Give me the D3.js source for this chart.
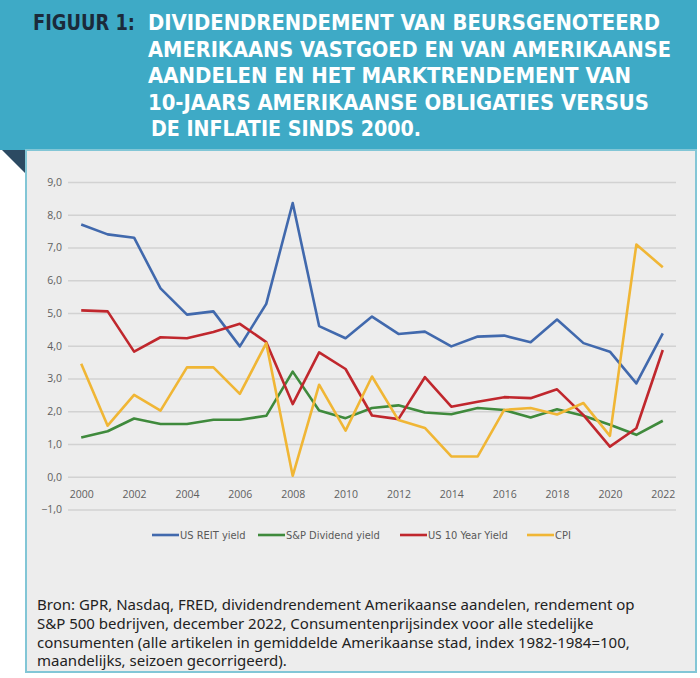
<!DOCTYPE html>
<html><head><meta charset="utf-8">
<script src="https://cdn.jsdelivr.net/npm/d3@7"></script>
<style>body{margin:0;background:#fff}svg{display:block}</style>
</head><body>
<svg id="c" width="700" height="678"></svg>
<script>
const years = d3.range(2000, 2023).map(String);
const reit = [7.7,7.4,7.3,5.75,4.95,5.05,3.98,5.28,8.36,4.6,4.23,4.89,4.36,4.43,3.98,4.28,4.31,4.11,4.8,4.08,3.82,2.85,4.38];
const spDiv = [1.2,1.39,1.78,1.61,1.61,1.74,1.74,1.86,3.21,2.02,1.79,2.1,2.18,1.96,1.91,2.1,2.04,1.81,2.06,1.86,1.59,1.28,1.71];
const us10 = [5.08,5.05,3.82,4.26,4.23,4.42,4.67,4.11,2.22,3.8,3.29,1.87,1.76,3.04,2.14,2.29,2.43,2.4,2.67,1.88,0.92,1.48,3.87];
const cpi = [3.45,1.56,2.5,2.02,3.34,3.34,2.53,4.08,0.03,2.81,1.41,3.06,1.73,1.49,0.62,0.62,2.04,2.1,1.9,2.25,1.25,7.09,6.4];
const seriesNames = ["US REIT yield","S&P Dividend yield","US 10 Year Yield","CPI"];
const seriesColors = ["#4169ad","#3f8a3c","#c0272d","#f0b635"];
const yTicks = [-1,0,1,2,3,4,5,6,7,8,9];
const xTickLabels = ["2000","2002","2004","2006","2008","2010","2012","2014","2016","2018","2020","2022"];
const titleLines = ["DIVIDENDRENDEMENT VAN BEURSGENOTEERD","AMERIKAANS VASTGOED EN VAN AMERIKAANSE","AANDELEN EN HET MARKTRENDEMENT VAN","10-JAARS AMERIKAANSE OBLIGATIES VERSUS","DE INFLATIE SINDS 2000."];
const sourceLines = ["Bron: GPR, Nasdaq, FRED, dividendrendement Amerikaanse aandelen, rendement op","S&P 500 bedrijven, december 2022, Consumentenprijsindex voor alle stedelijke","consumenten (alle artikelen in gemiddelde Amerikaanse stad, index 1982-1984=100,","maandelijks, seizoen gecorrigeerd)."];

const svg = d3.select("#c");
// banner
svg.append("rect").attr("x",0).attr("y",0).attr("width",697).attr("height",150).attr("fill","#3eaac6");
svg.append("path").attr("d","M2,150L26,150L26,174Z").attr("fill","#2c4a62");
// box
svg.append("rect").attr("x",26).attr("y",150).attr("width",670).attr("height",522).attr("fill","#ededed").attr("stroke","#82c6d6").attr("stroke-width",2);

// title
const tf = "'Liberation Sans Narrow','DejaVu Sans Condensed','Arial Narrow',sans-serif";
svg.append("text").attr("x",33).attr("y",30).attr("font-family",tf).attr("font-weight","bold").attr("font-size",22)
  .attr("fill","#1b2a3a").attr("textLength",102).attr("lengthAdjust","spacingAndGlyphs").text("FIGUUR 1:");
const tW = [512,523,483,501,270];
const tX = [148,148,148,148,151];
titleLines.forEach((t,i)=>{
  svg.append("text").attr("x",tX[i]).attr("y",30+i*26.5).attr("font-family",tf).attr("font-weight","bold").attr("font-size",22)
    .attr("fill","#ffffff").attr("textLength",tW[i]).attr("lengthAdjust","spacingAndGlyphs").text(t);
});

// chart
const x = d3.scalePoint().domain(years).range([68,676]).padding(0.5);
const y = d3.scaleLinear().domain([-1,9]).range([509.5,182]);
const af = "'Open Sans','Liberation Sans',sans-serif";
const g = svg.append("g");
const yAxis = d3.axisLeft(y).tickValues(yTicks).tickSize(-608).tickFormat(d=>d3.format(".1f")(d).replace(".",","));
const ya = g.append("g").attr("transform","translate(68,0)").call(yAxis);
ya.select(".domain").remove();
ya.selectAll(".tick line").attr("stroke","#d2d2d2").attr("stroke-width",1.5);
ya.selectAll(".tick text").attr("x",-6).attr("font-family",af).attr("font-size",10.5).attr("fill","#606060");

const xAxis = d3.axisBottom(x).tickValues(xTickLabels).tickSize(0).tickPadding(0);
const xa = g.append("g").attr("transform",`translate(0,${y(0)})`).call(xAxis);
xa.select(".domain").remove();
xa.selectAll(".tick text").attr("dy",0).attr("y",21).attr("font-family",af).attr("font-size",10.5).attr("fill","#606060");

const allSeries = [reit, spDiv, us10, cpi];
const line = d3.line().x((d,i)=>x(years[i])).y(d=>y(d));
// draw order: blue, green, red, yellow (yellow on top)
allSeries.forEach((s,i)=>{
  g.append("path").datum(s).attr("d",line).attr("fill","none").attr("stroke",seriesColors[i])
   .attr("stroke-width",2.6).attr("stroke-linejoin","round");
});

// legend
const lf = "'Liberation Sans Narrow','DejaVu Sans Condensed',sans-serif";
const legX = [152,258,400,527];
seriesNames.forEach((n,i)=>{
  svg.append("line").attr("x1",legX[i]).attr("x2",legX[i]+27).attr("y1",535).attr("y2",535).attr("stroke",seriesColors[i]).attr("stroke-width",2.6);
  svg.append("text").attr("x",legX[i]+28).attr("y",539).attr("font-family",lf).attr("font-size",11).attr("fill","#595959").text(n);
});

// source
sourceLines.forEach((t,i)=>{
  svg.append("text").attr("x",37).attr("y",610+i*18.8).attr("font-family","'Noto Sans','Open Sans',sans-serif").attr("font-size",15)
   .attr("fill","#222").text(t);
});
</script>
</body></html>
